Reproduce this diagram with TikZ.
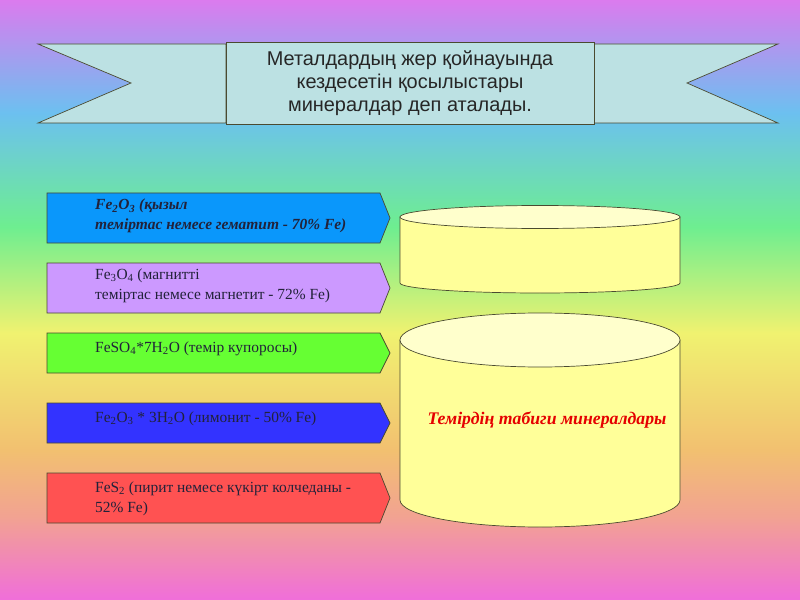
\documentclass[tikz,border=0pt]{standalone}
\usepackage{fontspec}
\setmainfont{Liberation Serif}
\newfontfamily\bannerfont{Liberation Sans}
\definecolor{bgV}{HTML}{DB7BEE}
\definecolor{bgB}{HTML}{6CC0F0}
\definecolor{bgG}{HTML}{6EEE90}
\definecolor{bgY}{HTML}{F0F270}
\definecolor{bgO}{HTML}{F2C070}
\definecolor{bgS}{HTML}{F2A292}
\definecolor{bgP}{HTML}{F06EDA}
\definecolor{ribbon}{HTML}{BCE1E3}
\definecolor{hemC}{HTML}{0A97FB}
\definecolor{magC}{HTML}{CC99FF}
\definecolor{vitC}{HTML}{66FF33}
\definecolor{limC}{HTML}{3333FF}
\definecolor{pyrC}{HTML}{FF5252}
\definecolor{jarBody}{HTML}{FFFF99}
\definecolor{jarTop}{HTML}{FFFFCC}
\definecolor{edge}{HTML}{4A4A30}
\definecolor{ink}{HTML}{22223A}
\pgfdeclareverticalshading{rainbow}{100bp}{color(0bp)=(bgP); color(25bp)=(bgP);
  color(31.9bp)=(bgS); color(37.5bp)=(bgO); color(47.25bp)=(bgY);
  color(56.1bp)=(bgG); color(65.6bp)=(bgB); color(75bp)=(bgV); color(100bp)=(bgV)}
\begin{document}
\begin{tikzpicture}[x=1bp,y=-1bp,
  frame/.style={draw=edge,line width=0.7pt},
  boxtext/.style={anchor=north west,align=left,inner sep=0pt,text=ink,
    font=\fontsize{15.5}{20}\selectfont}]
\useasboundingbox (0,0) rectangle (800,600);
% фон
\fill[shading=rainbow] (0,0) rectangle (800,600);
% лента
\draw[frame,fill=ribbon] (38,44) -- (226,44) -- (226,123) -- (38,123) -- (131,83) -- cycle;
\draw[frame,fill=ribbon] (594,44) -- (778,44) -- (687,83) -- (778,123) -- (594,123) -- cycle;
\fill[black!85] (226,121) rectangle (318,125);
\fill[black!85] (502,121) rectangle (594,125);
\node[frame,fill=ribbon,minimum width=368bp,minimum height=82bp,inner sep=0pt,
  align=center,text=black!85,font=\bannerfont\fontsize{20}{23}\selectfont]
  (title) at (410,83.5) {Металдардың жер қойнауында\\кездесетін қосылыстары\\минералдар деп аталады.};
% көрсеткілер
\draw[frame,fill=hemC] (47,193) -- (380,193) -- (390,218) -- (380,243) -- (47,243) -- cycle;
\draw[frame,fill=magC] (47,263) -- (380,263) -- (390,288) -- (380,313) -- (47,313) -- cycle;
\draw[frame,fill=vitC] (47,333) -- (380,333) -- (390,353) -- (380,373) -- (47,373) -- cycle;
\draw[frame,fill=limC] (47,403) -- (380,403) -- (390,423) -- (380,443) -- (47,443) -- cycle;
\draw[frame,fill=pyrC] (47,473) -- (380,473) -- (390,498) -- (380,523) -- (47,523) -- cycle;
\node[boxtext,font=\fontsize{15.5}{20}\selectfont\bfseries\itshape] (hematite) at (95,199)
  {Fe\textsubscript{2}O\textsubscript{3} (қызыл\\теміртас немесе гематит - 70\% Fe)};
\node[boxtext] (magnetite) at (95,268.5)
  {Fe\textsubscript{3}O\textsubscript{4} (магнитті\\теміртас немесе магнетит - 72\% Fe)};
\node[boxtext] (vitriol) at (95,341.5)
  {FeSO\textsubscript{4}*7H\textsubscript{2}O (темір купоросы)};
\node[boxtext] (limonite) at (95,411.5)
  {Fe\textsubscript{2}O\textsubscript{3} * 3H\textsubscript{2}O (лимонит - 50\% Fe)};
\node[boxtext] (pyrite) at (95,481.5)
  {FeS\textsubscript{2} (пирит немесе күкірт колчеданы -\\52\% Fe)};
% цилиндрлер
\draw[frame,fill=jarBody] (400,217) -- (400,283)
  arc[start angle=180,end angle=0,x radius=140,y radius=10] -- (680,217) -- cycle;
\draw[frame,fill=jarTop] (540,217) ellipse (140 and 11.5);
\draw[frame,fill=jarBody] (400,340) -- (400,500)
  arc[start angle=180,end angle=0,x radius=140,y radius=27] -- (680,340) -- cycle;
\draw[frame,fill=jarTop] (540,340) ellipse (140 and 27);
\node[text=red!90!black,font=\fontsize{17.8}{21}\selectfont\bfseries\itshape]
  (minerals) at (547,420) {Темірдің табиги минералдары};
\end{tikzpicture}
\end{document}
